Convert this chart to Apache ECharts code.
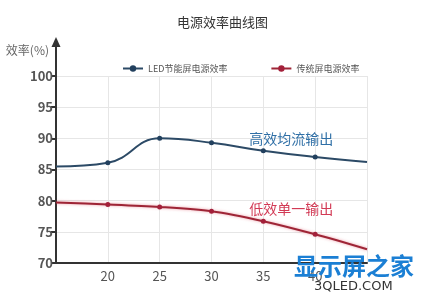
<!DOCTYPE html>
<html><head><meta charset="utf-8">
<script src="https://cdn.jsdelivr.net/npm/echarts@6/dist/echarts.min.js"></script>
<style>html,body{margin:0;padding:0;background:#fff}#c{width:424px;height:299px}</style>
</head><body><div id="c"></div>
<script>
const title = '电源效率曲线图';
const yName = '效率(%)';
const xValues = [15, 20, 25, 30, 35, 40, 45];
const ledName = 'LED节能屏电源效率';
const ledValues = [85.5, 86.1, 90.0, 89.3, 88.0, 87.0, 86.2];
const oldName = '传统屏电源效率';
const oldValues = [79.7, 79.4, 79.0, 78.3, 76.7, 74.6, 72.2];
const ledNote = { text: '高效均流输出', x: 37.7, y: 90.0 };
const oldNote = { text: '低效单一输出', x: 37.7, y: 78.7 };
const xTickLabels = ['20', '25', '30', '35', '40'];
const yTickLabels = ['70', '75', '80', '85', '90', '95', '100'];

const font = '"Noto Sans CJK SC", "Noto Sans", sans-serif';
const chart = echarts.init(document.getElementById('c'), null, { renderer: 'canvas' });
const pairs = vals => xValues.map((x, i) => [x, vals[i]]);
const symSize = v => (v[0] === xValues[0] || v[0] === xValues[xValues.length - 1]) ? 0 : 5;

chart.setOption({
  backgroundColor: '#fff',
  animation: false,
  title: { text: title, left: 172, top: 11, textStyle: { fontSize: 13, fontWeight: 'normal', color: '#333', fontFamily: font } },
  legend: {
    left: 117, top: 59, itemGap: 43, itemWidth: 20, itemHeight: 8,
    textStyle: { fontSize: 9, color: '#555', fontFamily: font },
    data: [ledName, oldName]
  },
  grid: { left: 56, top: 76, right: 57, bottom: 36 },
  xAxis: {
    type: 'value', min: 15, max: 45, interval: 5,
    axisLine: { lineStyle: { color: '#333', width: 2 } },
    axisTick: { show: false },
    splitLine: { show: true, lineStyle: { color: '#e6e6e6', width: 1 } },
    axisLabel: {
      color: '#555', fontSize: 13, fontFamily: font, margin: 7,
      formatter: v => xTickLabels.includes(String(v)) ? String(v) : ''
    }
  },
  yAxis: {
    type: 'value', min: 70, max: 100, interval: 5,
    name: yName, nameLocation: 'end', nameGap: 20,
    nameTextStyle: { color: '#666', fontSize: 12, fontFamily: font, align: 'right', padding: [0, 7, 0, 0] },
    axisLine: { show: true, lineStyle: { color: '#333', width: 2 } },
    axisTick: { show: true, inside: false, length: 5, lineStyle: { color: '#333', width: 2 } },
    splitLine: { show: true, lineStyle: { color: '#e6e6e6', width: 1 } },
    axisLabel: {
      color: '#555', fontSize: 13, fontWeight: 'bold', fontFamily: font, margin: 3,
      formatter: v => yTickLabels.includes(String(v)) ? String(v) : ''
    }
  },
  series: [
    {
      name: ledName, type: 'line', smooth: 0.45, data: pairs(ledValues),
      symbol: 'circle', symbolSize: symSize, showAllSymbol: true,
      lineStyle: { color: '#2c4a66', width: 2 },
      itemStyle: { color: '#22405e' },
      markPoint: {
        symbol: 'circle', symbolSize: 0,
        label: { show: true, position: 'inside', formatter: ledNote.text, color: '#2f6fa6', fontSize: 14, fontFamily: font },
        data: [{ coord: [ledNote.x, ledNote.y] }]
      }
    },
    {
      name: oldName, type: 'line', smooth: 0.3, data: pairs(oldValues),
      symbol: 'circle', symbolSize: symSize, showAllSymbol: true,
      lineStyle: { color: '#9e2536', width: 2, shadowColor: 'rgba(220,60,80,0.5)', shadowBlur: 3 },
      itemStyle: { color: '#a3203a' },
      markPoint: {
        symbol: 'circle', symbolSize: 0,
        label: { show: true, position: 'inside', formatter: oldNote.text, color: '#d23a55', fontSize: 14, fontFamily: font },
        data: [{ coord: [oldNote.x, oldNote.y] }]
      }
    }
  ],
  graphic: [
    { type: 'line', shape: { x1: 56, y1: 77, x2: 56, y2: 44 }, style: { stroke: '#333', lineWidth: 2 }, z: 10 },
    { type: 'polygon', shape: { points: [[56, 37], [51.5, 47], [60.5, 47]] }, style: { fill: '#333' }, z: 10 },
    { type: 'text', left: 294, top: 254, style: { text: '显示屏之家', fill: '#1b7fd4', font: 'bold 24px "Noto Sans CJK SC"' }, z: 20 },
    { type: 'text', left: 314, top: 280, style: { text: '3QLED.COM', fill: '#333', font: '13px "DejaVu Sans"' }, z: 20 }
  ]
});
</script></body></html>
